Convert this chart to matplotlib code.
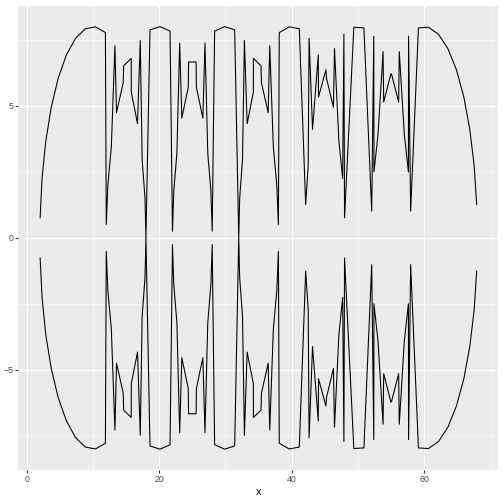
import numpy as np
import matplotlib.pyplot as plt

# upper points of the six rings, y >= 0
ring1_x = [18.000, 17.855, 17.427, 16.730, 15.790, 14.641, 13.323, 11.886, 10.381,
           8.862, 7.384, 6.000, 4.761, 3.712, 2.889, 2.324, 2.036]
ring1_y = [0.000, 1.514, 2.973, 4.325, 5.521, 6.517, 7.277, 7.774, 7.991,
           7.919, 7.560, 6.928, 6.046, 4.945, 3.666, 2.254, 0.760]

ring2_x = [27.996, 27.803, 27.329, 26.589, 25.612, 24.431, 23.091, 21.638, 20.127,
           18.611, 17.145, 15.782, 14.572, 13.558, 12.777, 12.256, 12.016]
ring2_y = [0.254, 1.762, 3.207, 4.536, 5.702, 6.661, 7.379, 7.830, 7.999,
           7.878, 7.473, 6.798, 5.877, 4.743, 3.438, 2.009, 0.507]

ring3_x = [37.984, 37.744, 37.223, 36.442, 35.428, 34.218, 32.855, 31.389, 29.873,
           28.362, 26.909, 25.569, 24.388, 23.411, 22.671, 22.197, 22.004]
ring3_y = [0.507, 2.009, 3.438, 4.743, 5.877, 6.798, 7.473, 7.878, 7.999,
           7.830, 7.379, 6.661, 5.702, 4.536, 3.207, 1.762, 0.254]

ring4_x = [47.964, 47.676, 47.111, 46.288, 45.239, 44.000, 42.616, 41.138, 39.619,
           38.114, 36.677, 35.359, 34.210, 33.270, 32.573, 32.145, 32.000]
ring4_y = [0.760, 2.254, 3.666, 4.945, 6.046, 6.928, 7.560, 7.919, 7.991,
           7.774, 7.277, 6.517, 5.521, 4.325, 2.973, 1.514, 0.000]

ring5_x = [57.936, 57.601, 56.991, 56.128, 55.044, 53.778, 52.375, 50.887,
           49.366, 47.868, 46.447, 45.155, 44.038, 43.136, 42.482, 42.100]
ring5_y = [1.013, 2.496, 3.890, 5.142, 6.209, 7.052, 7.639, 7.951,
           7.975, 7.711, 7.168, 6.366, 5.334, 4.109, 2.736, 1.264]

ring6_x = [67.900, 67.518, 66.864, 65.962, 64.845, 63.553, 62.132, 60.634,
           59.113, 57.625, 56.222, 54.956, 53.872, 53.009, 52.399, 52.064]
ring6_y = [1.264, 2.736, 4.109, 5.334, 6.366, 7.168, 7.711, 7.975,
           7.951, 7.639, 7.052, 6.209, 5.142, 3.890, 2.496, 1.013]

x_ticks = [0, 20, 40, 60]
y_ticks = [-5, 0, 5]

x = np.concatenate([ring1_x, ring2_x, ring3_x, ring4_x, ring5_x, ring6_x])
y = np.concatenate([ring1_y, ring2_y, ring3_y, ring4_y, ring5_y, ring6_y])
order = np.argsort(x, kind="stable")  # geom_line joins points in x order
x, y = x[order], y[order]

plt.rcParams['font.family'] = ['Liberation Sans', 'DejaVu Sans']

fig = plt.figure(figsize=(7, 7), dpi=72)
ax = fig.add_axes([18.3 / 504, 33.7 / 504, 480.2 / 504, 464.8 / 504])
ax.set_facecolor('#EBEBEB')
for s in ax.spines.values():
    s.set_visible(False)

pad_x = (x.max() - x.min()) * 0.05
pad_y = (y.max() * 2) * 0.05
ax.set_xlim(x.min() - pad_x, x.max() + pad_x)
ax.set_ylim(-y.max() - pad_y, y.max() + pad_y)

ax.set_xticks(x_ticks)
ax.set_yticks(y_ticks)
ax.set_xticks([10, 30, 50, 70], minor=True)
ax.set_yticks([-7.5, -2.5, 2.5, 7.5], minor=True)
ax.grid(which='major', color='white', linewidth=1.07)
ax.grid(which='minor', color='white', linewidth=0.53)
ax.set_axisbelow(True)
ax.tick_params(which='major', length=2.75, width=1.07, color='#333333',
               labelsize=8.8, labelcolor='#4D4D4D', pad=2.2)
ax.tick_params(which='minor', length=0)

ax.plot(x, y, color='black', linewidth=1.07)
ax.plot(x, -y, color='black', linewidth=1.07)

ax.set_xlabel('x', fontsize=11, labelpad=2.75)

fig.savefig('out.png', dpi=72)
